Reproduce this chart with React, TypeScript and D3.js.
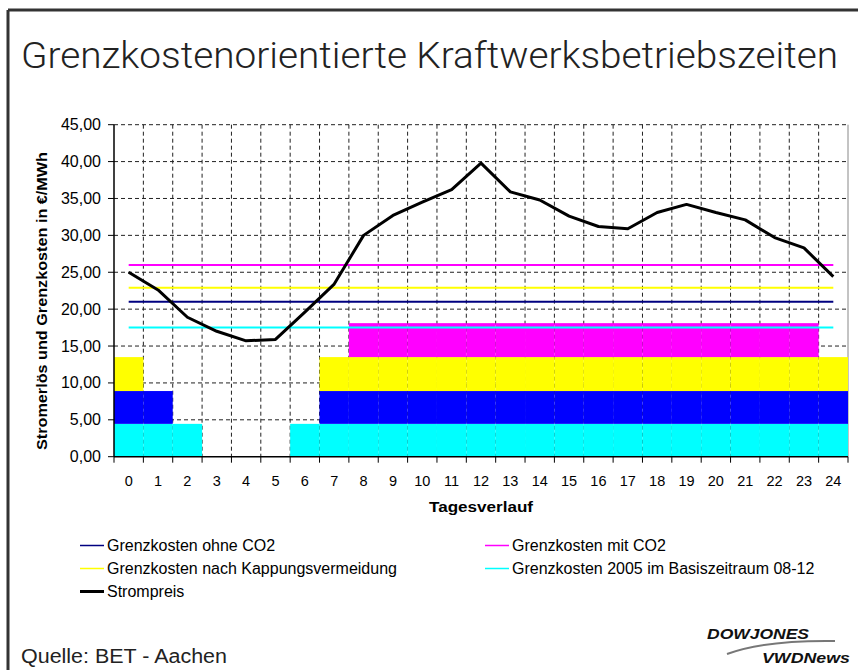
import React from "react";
import * as d3 from "d3";

// Tagesstunden
const hours = [0, 1, 2, 3, 4, 5, 6, 7, 8, 9, 10, 11, 12, 13, 14, 15, 16, 17, 18, 19, 20, 21, 22, 23, 24];

// Strompreis in €/MWh
const strompreis = [25.0, 22.6, 18.9, 17.0, 15.7, 15.9, 19.6, 23.4, 30.0, 32.7, 34.5, 36.2, 39.8, 35.9, 34.8, 32.6, 31.2, 30.9, 33.1, 34.2, 33.1, 32.1, 29.7, 28.3, 24.4];

// Grenzkosten (konstante Niveaus)
const grenzOhneCO2 = 21.0;
const grenzMitCO2 = 26.0;
const grenzKappung = 22.9;
const grenz2005 = 17.5;

// Betriebszeiten als gestapelte Säulen
const barCyan = [4.45, 4.45, 4.45, 0, 0, 0, 4.45, 4.45, 4.45, 4.45, 4.45, 4.45, 4.45, 4.45, 4.45, 4.45, 4.45, 4.45, 4.45, 4.45, 4.45, 4.45, 4.45, 4.45, 4.45];
const barBlue = [4.45, 4.45, 0, 0, 0, 0, 0, 4.45, 4.45, 4.45, 4.45, 4.45, 4.45, 4.45, 4.45, 4.45, 4.45, 4.45, 4.45, 4.45, 4.45, 4.45, 4.45, 4.45, 4.45];
const barYellow = [4.6, 0, 0, 0, 0, 0, 0, 4.6, 4.6, 4.6, 4.6, 4.6, 4.6, 4.6, 4.6, 4.6, 4.6, 4.6, 4.6, 4.6, 4.6, 4.6, 4.6, 4.6, 4.6];
const barMagenta = [0, 0, 0, 0, 0, 0, 0, 0, 4.6, 4.6, 4.6, 4.6, 4.6, 4.6, 4.6, 4.6, 4.6, 4.6, 4.6, 4.6, 4.6, 4.6, 4.6, 4.6, 0];

const yTicks = [0, 5, 10, 15, 20, 25, 30, 35, 40, 45];

const legendItems = [
  { label: "Grenzkosten ohne CO2", color: "#000080", width: 1.5, col: 0, row: 0 },
  { label: "Grenzkosten mit CO2", color: "#ff00ff", width: 1.5, col: 1, row: 0 },
  { label: "Grenzkosten nach Kappungsvermeidung", color: "#ffff00", width: 1.5, col: 0, row: 1 },
  { label: "Grenzkosten 2005 im Basiszeitraum 08-12", color: "#00ffff", width: 1.5, col: 1, row: 1 },
  { label: "Strompreis", color: "#000000", width: 3, col: 0, row: 2 },
];

const W = 858;
const H = 670;
const left = 114, right = 848, top = 124.7, bottom = 456.7;
const font = "'Liberation Sans', Arial, sans-serif";
const lightFont = "Roboto, 'Liberation Sans', sans-serif";

const App = () => {
  const x = d3.scaleBand<number>().domain(hours).range([left, right]).padding(0);
  const bw = x.bandwidth();
  const cx = (h: number) => (x(h) as number) + bw / 2;
  const y = d3.scaleLinear().domain([0, 45]).range([bottom, top]);
  const fmt = (v: number) => d3.format(".2f")(v).replace(".", ",");

  const rows = hours.map((h, i) => ({ hour: h, cyan: barCyan[i], blue: barBlue[i], yellow: barYellow[i], magenta: barMagenta[i] }));
  const keys = ["cyan", "blue", "yellow", "magenta"];
  const barColors: Record<string, string> = { cyan: "#00ffff", blue: "#0000ff", yellow: "#ffff00", magenta: "#ff00ff" };
  const stacked = d3.stack<any>().keys(keys)(rows);

  const priceLine = d3.line<number>().x((d, i) => cx(hours[i])).y((d) => y(d));
  const levelLine = (v: number) => d3.line<number>().x((d) => cx(d)).y(() => y(v))([hours[0], hours[hours.length - 1]]) || "";

  const levels = [
    { v: grenz2005, color: "#00ffff" },
    { v: grenzOhneCO2, color: "#000080" },
    { v: grenzKappung, color: "#ffff00" },
    { v: grenzMitCO2, color: "#ff00ff" },
  ];

  const boundaries = hours.map((h) => x(h) as number).concat([right]);

  return (
    <svg width={W} height={H} style={{ position: "absolute", left: 0, top: 0, background: "#fff" }} fontFamily={font}>
      <rect x={0} y={0} width={W} height={H} fill="#fff" />
      {/* Rahmen */}
      <line x1={8} y1={10} x2={W} y2={10} stroke="#333" strokeWidth={3} />
      <line x1={8} y1={10} x2={8} y2={H} stroke="#333" strokeWidth={3} />

      <text x={21} y={68} fontSize={36} fontWeight={300} fill="#222" fontFamily={lightFont}
        textLength={817} lengthAdjust="spacingAndGlyphs">Grenzkostenorientierte Kraftwerksbetriebszeiten</text>

      {/* Gitter */}
      {yTicks.filter((t) => t > 0).map((t) => (
        <line key={"gy" + t} x1={left} x2={right} y1={y(t)} y2={y(t)} stroke="#222" strokeWidth={1} strokeDasharray="4,3" />
      ))}
      {boundaries.slice(1, -1).map((bx, i) => (
        <line key={"gx" + i} x1={bx} x2={bx} y1={top} y2={bottom} stroke="#222" strokeWidth={1} strokeDasharray="4,3" />
      ))}
      <line x1={right} x2={right} y1={top} y2={bottom} stroke="#888" strokeWidth={1} />

      {/* Säulen */}
      {stacked.map((s) => (
        <g key={s.key} fill={barColors[s.key]}>
          {s.map((d, i) => d[1] - d[0] > 0 ? (
            <rect key={i} x={x(hours[i])} width={bw} y={y(d[1])} height={y(d[0]) - y(d[1])} />
          ) : null)}
        </g>
      ))}

      {/* Grenzkosten-Linien */}
      {levels.map((l) => (
        <path key={l.color} d={levelLine(l.v)} stroke={l.color} strokeWidth={2} fill="none" />
      ))}

      <path d={priceLine(strompreis) || ""} stroke="#000" strokeWidth={3} fill="none" strokeLinejoin="round" />

      {/* Achsen */}
      <line x1={left} x2={left} y1={top} y2={bottom} stroke="#000" strokeWidth={1.5} />
      <line x1={left} x2={right} y1={bottom} y2={bottom} stroke="#000" strokeWidth={1.5} />
      {yTicks.map((t) => (
        <g key={"yt" + t}>
          <line x1={left - 6} x2={left} y1={y(t)} y2={y(t)} stroke="#000" strokeWidth={1} />
          <text x={101} y={y(t) + 5.5} fontSize={16} textAnchor="end" fill="#000">{fmt(t)}</text>
        </g>
      ))}
      {boundaries.map((bx, i) => (
        <line key={"xt" + i} x1={bx} x2={bx} y1={bottom} y2={bottom + 6} stroke="#000" strokeWidth={1} />
      ))}
      {hours.map((h) => (
        <text key={"xl" + h} x={cx(h)} y={486} fontSize={14.5} textAnchor="middle" fill="#000">{h}</text>
      ))}
      <text x={481} y={512} fontSize={14.5} fontWeight="bold" textAnchor="middle" fill="#000"
        textLength={104} lengthAdjust="spacingAndGlyphs">Tagesverlauf</text>
      <text transform={`translate(47,301) rotate(-90)`} fontSize={15} fontWeight="bold" textAnchor="middle" fill="#000"
        textLength={298} lengthAdjust="spacingAndGlyphs">Stromerlös und Grenzkosten in €/MWh</text>

      {/* Legende */}
      {legendItems.map((it) => {
        const lx = it.col === 0 ? 80 : 485;
        const ly = 545.5 + it.row * 23;
        return (
          <g key={it.label}>
            <line x1={lx} x2={lx + 24} y1={ly} y2={ly} stroke={it.color} strokeWidth={it.width} />
            <text x={lx + 27} y={ly + 5.5} fontSize={16} fill="#000">{it.label}</text>
          </g>
        );
      })}

      <text x={21} y={663} fontSize={20} fill="#222"
        textLength={206} lengthAdjust="spacingAndGlyphs">Quelle: BET - Aachen</text>

      {/* Logo */}
      <text x={707} y={639} fontSize={15} fontWeight="bold" fontStyle="italic" fill="#111" textLength={102} lengthAdjust="spacingAndGlyphs">DOWJONES</text>
      <path d="M727,654 Q765,640 835,641" stroke="#777" strokeWidth={2} fill="none" />
      <text x={762} y={663} fontSize={15} fontWeight="bold" fontStyle="italic" fill="#111" textLength={88} lengthAdjust="spacingAndGlyphs">VWDNews</text>
    </svg>
  );
};

export default App;
